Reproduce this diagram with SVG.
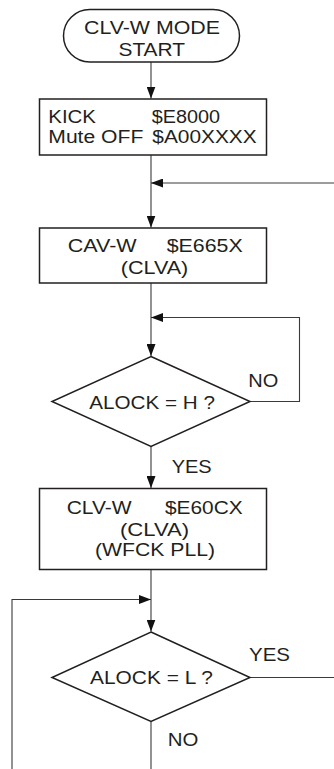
<svg xmlns="http://www.w3.org/2000/svg" width="334" height="769" viewBox="0 0 334 769">
<style>
.shape{fill:#fff;stroke:#231f20;stroke-width:1.5}
.conn{fill:none;stroke:#3a3a3a;stroke-width:1.1}
text{font-family:"Liberation Sans",Arial,sans-serif;font-size:18px;fill:#231f20}
</style>
<defs>
<marker id="arr" markerUnits="userSpaceOnUse" markerWidth="12" markerHeight="9" refX="12" refY="4.5" orient="auto">
<path d="M0,0 L12,4.5 L0,9 z" fill="#111"/>
</marker>
</defs>
<rect width="334" height="769" fill="#fff"/>
<g id="connectors">
<line class="conn" x1="151" y1="62" x2="151" y2="98.5" marker-end="url(#arr)"/>
<line class="conn" x1="151" y1="155" x2="151" y2="227.5" marker-end="url(#arr)"/>
<line class="conn" x1="334" y1="183" x2="151" y2="183" marker-end="url(#arr)"/>
<line class="conn" x1="151" y1="283" x2="151" y2="356" marker-end="url(#arr)"/>
<polyline class="conn" points="250,401.5 299.5,401.5 299.5,317.5 151,317.5" marker-end="url(#arr)"/>
<line class="conn" x1="151" y1="446" x2="151" y2="488" marker-end="url(#arr)"/>
<line class="conn" x1="151" y1="569.5" x2="151" y2="631.5" marker-end="url(#arr)"/>
<polyline class="conn" points="12,769 12,599.5 151,599.5" marker-end="url(#arr)"/>
<line class="conn" x1="250" y1="677.5" x2="334" y2="677.5"/>
<line class="conn" x1="151" y1="722" x2="151" y2="769"/>
</g>
<g id="start">
<rect class="shape" x="63.5" y="9.5" width="176" height="52.5" rx="26.25"/>
<text x="84" y="34" textLength="136" lengthAdjust="spacingAndGlyphs">CLV-W MODE</text>
<text x="118.5" y="56" textLength="66.5" lengthAdjust="spacingAndGlyphs">START</text>
</g>
<g id="kick">
<rect class="shape" x="39.5" y="99" width="227" height="56"/>
<text x="48.3" y="122.5" textLength="47.7" lengthAdjust="spacingAndGlyphs">KICK</text>
<text x="151.7" y="122.5" textLength="68.3" lengthAdjust="spacingAndGlyphs">$E8000</text>
<text x="48.3" y="143" textLength="95" lengthAdjust="spacingAndGlyphs">Mute OFF</text>
<text x="152.3" y="143" textLength="104.4" lengthAdjust="spacingAndGlyphs">$A00XXXX</text>
</g>
<g id="cavw">
<rect class="shape" x="39.5" y="228" width="227" height="55"/>
<text x="67.7" y="251.5" textLength="69" lengthAdjust="spacingAndGlyphs">CAV-W</text>
<text x="166.7" y="251.5" textLength="76" lengthAdjust="spacingAndGlyphs">$E665X</text>
<text x="120.7" y="273.5" textLength="67.6" lengthAdjust="spacingAndGlyphs">(CLVA)</text>
</g>
<g id="alockh">
<polygon class="shape" points="151,356.5 250,401.5 151,446.5 52,401.5"/>
<text x="89.3" y="409" textLength="125.7" lengthAdjust="spacingAndGlyphs">ALOCK = H ?</text>
<text x="248.3" y="386.5" textLength="30" lengthAdjust="spacingAndGlyphs">NO</text>
<text x="171.7" y="472.5" textLength="40" lengthAdjust="spacingAndGlyphs">YES</text>
</g>
<g id="clvw">
<rect class="shape" x="39.5" y="488.5" width="227" height="81"/>
<text x="66.7" y="514" textLength="65" lengthAdjust="spacingAndGlyphs">CLV-W</text>
<text x="165" y="514" textLength="77.7" lengthAdjust="spacingAndGlyphs">$E60CX</text>
<text x="120" y="536" textLength="69" lengthAdjust="spacingAndGlyphs">(CLVA)</text>
<text x="95" y="555.7" textLength="120" lengthAdjust="spacingAndGlyphs">(WFCK PLL)</text>
</g>
<g id="alockl">
<polygon class="shape" points="151,632 250,677.5 151,721.5 52,677.5"/>
<text x="90" y="683.5" textLength="123" lengthAdjust="spacingAndGlyphs">ALOCK = L ?</text>
<text x="249" y="661" textLength="41" lengthAdjust="spacingAndGlyphs">YES</text>
<text x="167.7" y="745.5" textLength="30.6" lengthAdjust="spacingAndGlyphs">NO</text>
</g>
</svg>
